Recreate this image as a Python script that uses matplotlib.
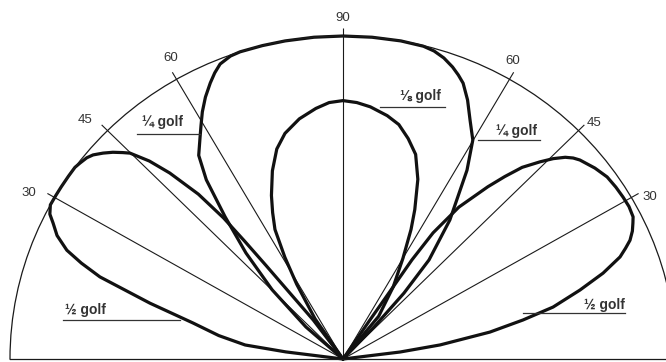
import numpy as np
import matplotlib
matplotlib.use("Agg")
import matplotlib.pyplot as plt
from matplotlib.lines import Line2D

plt.rcParams['font.family'] = ['Liberation Sans', 'DejaVu Sans']

# Elevation rays (degrees from the right-hand horizon) and their labels
ray_angles = [30, 45, 60, 90, 120, 135, 150]
ray_labels = ['30', '45', '60', '90', '60', '45', '30']

# Radiation lobes: elevation angle (deg) and relative field strength
eighth_theta = [47, 51, 56, 60, 63, 65, 68, 71, 74, 77, 80, 84, 87, 90,
                93, 96, 100, 104, 107, 110, 113, 115, 117, 119, 121, 124, 127]
eighth_r = [0, 0.17, 0.27, 0.36, 0.45, 0.51, 0.60, 0.67, 0.71, 0.745, 0.765,
            0.785, 0.795, 0.80, 0.795, 0.78, 0.755, 0.72, 0.68, 0.62, 0.55,
            0.50, 0.45, 0.36, 0.27, 0.15, 0]

quarter_theta = [44, 46.8, 48.1, 49.9, 53.3, 57.5, 60.1, 62.7, 65, 67.1,
                 68.5, 70, 72, 74, 76, 80, 85, 90, 95, 100, 104, 108, 109.8,
                 112, 113.5, 115, 117, 118.9, 120.5, 122, 124.5, 126.5, 128.8,
                 131.6, 134.8, 138.3, 141]
quarter_r = [0, 0.136, 0.274, 0.401, 0.537, 0.693, 0.782, 0.832, 0.885, 0.927,
             0.945, 0.962, 0.98, 0.992, 0.998, 1.0, 1.0, 1.0, 1.0, 1.0, 1.0,
             1.0, 0.997, 0.985, 0.966, 0.943, 0.91, 0.874, 0.84, 0.81, 0.765,
             0.69, 0.565, 0.439, 0.302, 0.149, 0]

half_left_theta = [175, 172.7, 171.6, 169, 166.1, 163.4, 160.8, 159.3, 157.9,
                   156, 154.2, 153, 151.5, 149.5, 147.8, 145.5, 143.6, 142.5,
                   141, 139.9, 138.5, 137.2, 136, 135.1, 133.5, 132.1, 130.4,
                   129.4, 129.0, 128.6, 128.0, 126.5, 124]
half_left_r = [0, 0.173, 0.297, 0.38, 0.464, 0.605, 0.773, 0.84, 0.895,
               0.94, 0.967, 0.988, 1.0, 1.0, 1.0, 1.0, 1.0, 0.996,
               0.99, 0.981, 0.962, 0.942, 0.92, 0.903, 0.845, 0.776, 0.67,
               0.565, 0.47, 0.37, 0.26, 0.15, 0]

half_right_theta = [5, 7.2, 8.5, 10.7, 12.6, 14.3, 16.7, 18.8, 20.8, 22,
                    23.1, 24.5, 25.8, 26.8, 28.8, 30.8, 33, 35.4, 38, 40.9,
                    42, 43.1, 44.5, 45.9, 47.8, 49.3, 50.8, 53.5, 55.3, 56.0,
                    56.0, 56.2, 55]
half_right_r = [0, 0.173, 0.295, 0.449, 0.554, 0.651, 0.743, 0.825, 0.890,
                0.915, 0.937, 0.955, 0.967, 0.976, 0.98, 0.979, 0.977, 0.973,
                0.96, 0.941, 0.93, 0.914, 0.885, 0.850, 0.801, 0.745, 0.688,
                0.585, 0.475, 0.370, 0.258, 0.145, 0]

W, H = 666, 362
fig = plt.figure(figsize=(W / 100, H / 100), dpi=100)
fig.patch.set_facecolor('white')

# Half-disc polar axes: origin at (343, 359) px, radii 333 px across, 323 px up
cx, cy, rx, ry = 343, 359, 333, 323
ax_h = 2 * ry
left = (cx - rx) / W
bottom = ((H - cy) - 0.25 * ax_h) / H
ax = fig.add_axes([left, bottom, 2 * rx / W, ax_h / H], projection='polar')
ax.set_thetamin(0)
ax.set_thetamax(180)
ax.set_ylim(0, 1)
ax.set_aspect('auto')
ax.grid(False)
ax.set_xticks([])
ax.set_yticks([])
ax.set_facecolor('white')
for name, sp in ax.spines.items():
    sp.set_linewidth(0.9)
    sp.set_color('#1a1a1a')

# Elevation rays
label_pos = {30: 1.05, 45: 1.05, 60: 1.055, 90: 1.055,
             120: 1.066, 135: 1.071, 150: 1.074}
label_theta = {30: 28.6, 45: 44.2, 60: 61.1, 90: 90,
               120: 119.0, 135: 136.3, 150: 151.4}
for ang, lab in zip(ray_angles, ray_labels):
    t = np.deg2rad(ang)
    ax.plot([t, t], [0, 1.025], color='#1a1a1a', lw=0.8, clip_on=False,
            solid_capstyle='butt')
    ax.text(np.deg2rad(label_theta[ang]), label_pos[ang], lab,
            ha='center', va='center', fontsize=9.5, color='#333333')

# Lobes
lobe_style = dict(color='#111111', lw=2.3, solid_joinstyle='round',
                  solid_capstyle='round', clip_on=False)
for th, rr in [(eighth_theta, eighth_r), (quarter_theta, quarter_r),
               (half_left_theta, half_left_r),
               (half_right_theta, half_right_r)]:
    ax.plot(np.deg2rad(th), rr, **lobe_style)

# Lobe captions with leader lines (pixel positions)
captions = [
    ('\u215b golf', 420, 96, 380, 445, 107),
    ('\u00bc golf', 517, 131, 478, 540, 140),
    ('\u00bc golf', 162, 122, 137, 200, 134),
    ('\u00bd golf', 85, 310, 63, 180, 320),
    ('\u00bd golf', 604, 305, 523, 625, 313),
]
for txt, tx, ty, x0, x1, ly in captions:
    fig.text(tx / W, 1 - ty / H, txt, ha='center', va='center',
             fontsize=10, fontweight='bold', color='#333333')
    fig.add_artist(Line2D([x0 / W, x1 / W], [1 - ly / H, 1 - ly / H],
                          transform=fig.transFigure, color='#333333', lw=0.9))

fig.savefig('out.png', dpi=100, facecolor='white')
